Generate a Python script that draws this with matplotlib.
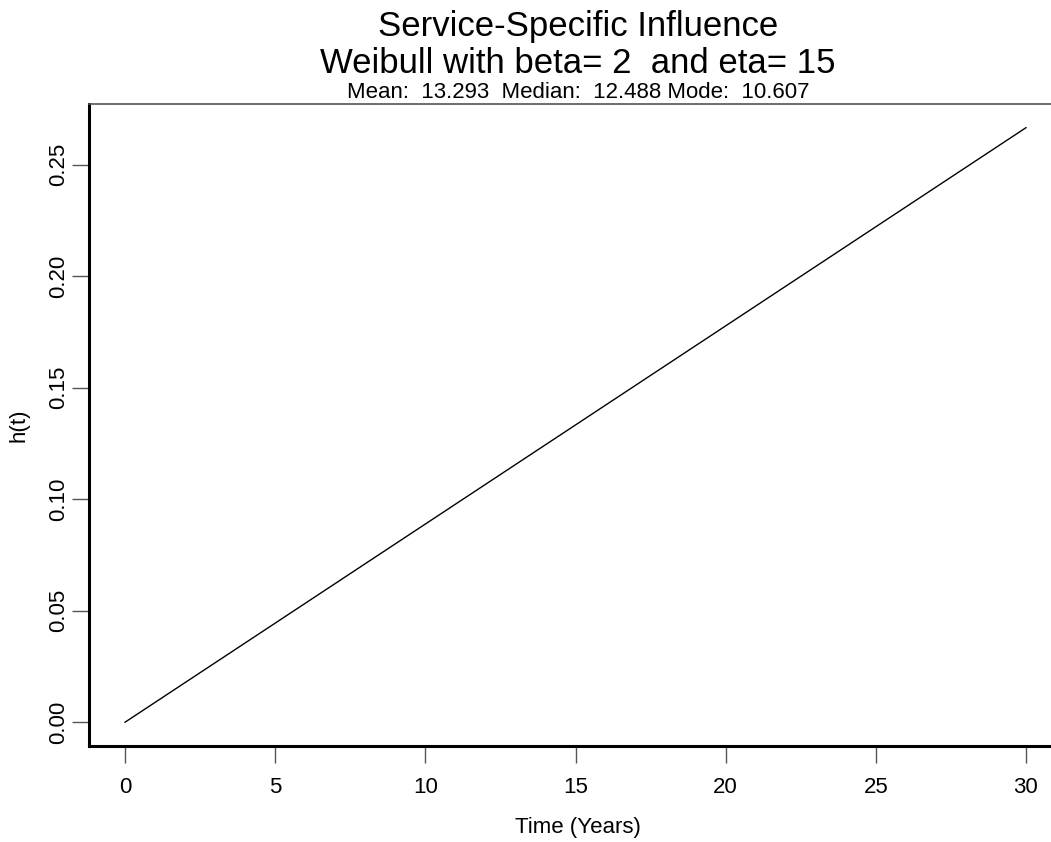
import numpy as np
import matplotlib
matplotlib.use("Agg")
import matplotlib.pyplot as plt

plt.rcParams['font.family'] = ['Liberation Sans', 'DejaVu Sans']

# Weibull hazard, beta=2, eta=15 -> straight line h(t) = 2t/225
time_years = [0, 30]
hazard = [0.0, 0.26667]

x_ticks = [0, 5, 10, 15, 20, 25, 30]
y_ticks = [0.00, 0.05, 0.10, 0.15, 0.20, 0.25]
y_tick_labels = ["0.00", "0.05", "0.10", "0.15", "0.20", "0.25"]

W, H = 1051, 842
fig = plt.figure(figsize=(W / 100, H / 100), dpi=100)

# plot region runs past the right edge of the image (cropped like the original)
left, right, top, bottom = 89, 1062, 104, 746
ax = fig.add_axes([left / W, 1 - bottom / H, (right - left) / W, (bottom - top) / H])

ax.plot(time_years, hazard, color='black', lw=1.0)

ax.set_xlim(-1.2, 31.2)
ax.set_ylim(-0.01067, 0.2773)

ax.set_xticks(x_ticks)
ax.set_yticks(y_ticks)
ax.set_yticklabels(y_tick_labels, rotation=90, va='center')
ax.tick_params(direction='out', length=12, width=1, color='#555555', labelsize=16)
ax.tick_params(axis='x', pad=10)
ax.tick_params(axis='y', pad=2)

ax.spines['right'].set_visible(False)
ax.spines['left'].set_linewidth(2.2)
ax.spines['bottom'].set_linewidth(2.2)
ax.spines['top'].set_linewidth(1.2)
ax.spines['top'].set_color('#555555')

cx = 578 / W
fig.text(cx, 1 - 833 / H, "Time (Years)", ha='center', va='baseline', fontsize=16)
fig.text(19 / W, 1 - 425 / H, "h(t)", ha='center', va='center', rotation=90, fontsize=16)

fig.text(cx, 1 - 36 / H, "Service-Specific Influence", ha='center', va='baseline', fontsize=25)
fig.text(cx, 1 - 73 / H, "Weibull with beta= 2  and eta= 15", ha='center', va='baseline', fontsize=25)
fig.text(cx, 1 - 98 / H, "Mean:  13.293  Median:  12.488 Mode:  10.607",
         ha='center', va='baseline', fontsize=16)

fig.savefig("out.png", dpi=100)
